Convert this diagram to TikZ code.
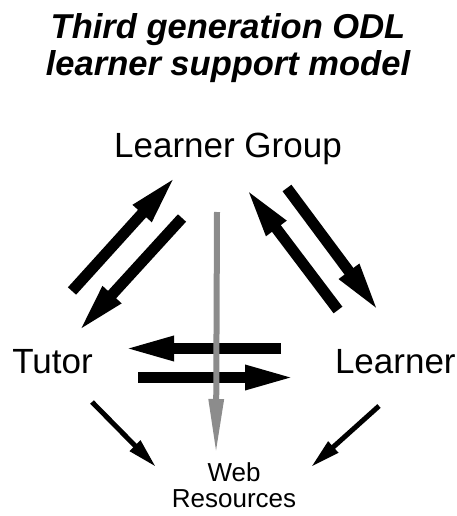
\documentclass[tikz,border=0pt]{standalone}
\usepackage{fontspec}
\setmainfont{Liberation Sans}
\usetikzlibrary{positioning, arrows.meta, calc}

\definecolor{webgray}{gray}{0.55}

\begin{document}
\begin{tikzpicture}[
  x=1pt, y=-1pt,
  heading/.style={align=center, inner sep=0pt, outer sep=0pt, font=\bfseries\itshape\fontsize{34.5}{37}\selectfont},
  actor/.style={inner sep=0pt, outer sep=0pt, font=\fontsize{#1}{#1}\selectfont},
  arrow/.style={-{Triangle[length=52pt, width=22pt]}, line width=11pt},
  thin arrow/.style={-{Triangle[length=30pt, width=14pt]}, line width=5pt},
  web arrow/.style={-{Triangle[length=56pt, width=14pt]}, line width=6pt, draw=webgray, fill=webgray}
]
\useasboundingbox (0,0) rectangle (457,516);

% ---------- Title ----------
\node[heading, anchor=north] (title) at (228,14) {Third generation ODL\\learner support model};

% ---------- Actors ----------
\node[actor=35, anchor=base] (group) at (228,157) {Learner Group};
\node[actor=35, anchor=base] (tutor) at (52.5,373) {Tutor};
\node[actor=35, anchor=base west] (learner) at (335,373) {Learner};
\node[actor=26, align=center, anchor=north] (web) at (234,463) {Web\\Resources};

% ---------- Arrows between tutor, group and learner ----------
\draw[arrow] ([shift={(19.5,-82)}]tutor.base) -- ([shift={(-51,18)}]group.base);
\draw[arrow] ([shift={(-46,61)}]group.base) -- ([shift={(24.5,-40)}]tutor.base);
\draw[arrow] ([shift={(3,-63)}]learner.base west) -- ([shift={(17,30)}]group.base);
\draw[arrow] ([shift={(59,31)}]group.base) -- ([shift={(45,-60)}]learner.base west);
\draw[arrow] ([shift={(-54,-24.5)}]learner.base west) -- ([shift={(69.5,-24.5)}]tutor.base);
\draw[arrow] ([shift={(85.5,4.5)}]tutor.base) -- ([shift={(-38,4.5)}]learner.base west);

% ---------- Arrows to the web resources ----------
\draw[thin arrow] ([shift={(39.5,29)}]tutor.base) -- ([shift={(-78,4)}]web.north);
\draw[thin arrow] ([shift={(44,33)}]learner.base west) -- ([shift={(77,4)}]web.north);
\draw[web arrow] ([shift={(-11,55)}]group.base) -- ([shift={(-18,-8)}]web.north);

\end{tikzpicture}
\end{document}
